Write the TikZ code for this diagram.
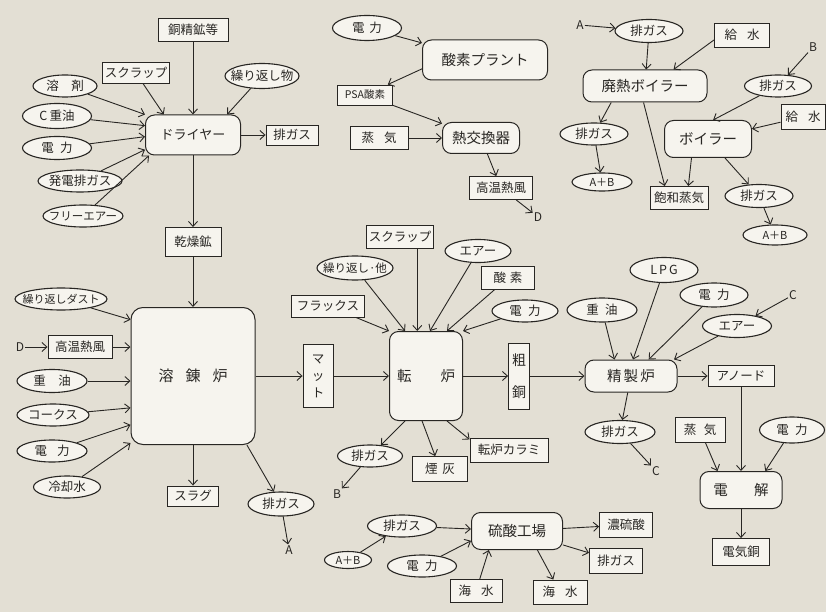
\documentclass[tikz,border=0pt]{standalone}
\usepackage{fontspec}
\setmainfont{Noto Sans CJK JP}
\usepackage{xcolor}
\definecolor{paper}{RGB}{227, 223, 212}
\definecolor{cell}{RGB}{246, 244, 238}
\definecolor{ink}{RGB}{40, 38, 35}
\usepackage{tikz}
\usetikzlibrary{arrows.meta, shapes.geometric}
\newcommand{\jsp}[1][.5]{\hspace{#1em}}

\begin{document}
\begin{tikzpicture}[x = 1pt, y = -1pt,
	box/.style = {draw = ink, fill = cell, line width = 0.9pt, inner sep = 2pt, minimum height = 23pt, text = ink, font = \fontsize{12.5}{14}\selectfont},
	oval/.style = {ellipse, draw = ink, fill = cell, line width = 1.1pt, inner xsep = -8pt, inner ysep = -2pt, minimum width = 68pt, minimum height = 23pt, text = ink, font = \fontsize{12.5}{14}\selectfont},
	unit/.style = {draw = ink, fill = cell, line width = 1pt, rounded corners = 9pt, text = ink, font = \fontsize{14.5}{16}\selectfont},
	tag/.style = {inner sep = 1pt, text = ink, font = \fontsize{12}{14}\selectfont},
	flow/.style = {draw = ink, line width = 0.9pt, -{Straight Barb[length = 5pt, width = 9pt]}}]
	\fill[paper] (0, 0) rectangle (826, 612);
	\useasboundingbox (0, 0) rectangle (826, 612);
	% drying
	\node[box, minimum width = 70pt] (ore) at (193, 30) {銅精鉱等};
	\node[box, minimum width = 65pt, minimum height = 21pt] (scrapD) at (136, 73) {スクラップ};
	\node[oval, minimum width = 64pt, minimum height = 22pt] (fluxD) at (65, 86) {溶\jsp[1]剤};
	\node[oval, minimum width = 69pt, minimum height = 25pt] (oilD) at (57, 116) {C\,重油};
	\node[oval, minimum width = 69pt] (powD) at (57, 148) {電\jsp{}力};
	\node[oval, minimum width = 84pt, minimum height = 22pt] (genD) at (80, 181) {発電排ガス};
	\node[oval, minimum width = 80pt, minimum height = 22pt, font = \fontsize{11.5}{13}\selectfont] (airD) at (83, 216) {フリーエアー};
	\node[oval, minimum width = 74pt, minimum height = 25pt] (recycD) at (262, 76) {繰り返し物};
	\node[unit, minimum width = 95pt, minimum height = 40pt, font = \fontsize{13}{15}\selectfont] (dryer) at (193, 135) {ドライヤー};
	\node[box, minimum width = 52pt, minimum height = 20pt] (gasD) at (292, 135) {排ガス};
	\node[box, minimum width = 56pt, minimum height = 29pt] (dried) at (193, 242) {乾燥鉱};
	% smelting
	\node[unit, rounded corners = 12pt, minimum width = 124pt, minimum height = 137pt, font = \fontsize{15}{17}\selectfont] (smelt) at (193, 376) {溶\jsp[.8]錬\jsp[.8]炉};
	\node[oval, minimum width = 92pt, minimum height = 22pt, font = \fontsize{11}{13}\selectfont] (dustS) at (61, 299) {繰り返しダスト};
	\node[tag] (dS) at (20, 347) {D};
	\node[box, minimum width = 64pt] (hotS) at (80, 347) {高温熱風};
	\node[oval, minimum width = 70pt] (oilS) at (52, 381) {重\jsp[1]油};
	\node[oval, minimum width = 72pt, minimum height = 22pt] (coke) at (53, 415) {コークス};
	\node[oval, minimum width = 70pt, minimum height = 22pt] (powS) at (52, 451) {電\jsp[.8]力};
	\node[oval, minimum width = 67pt, minimum height = 22pt] (coolS) at (67, 487) {冷却水};
	\node[box, minimum width = 51pt, minimum height = 20pt] (slag) at (193, 496) {スラグ};
	\node[oval, minimum width = 66pt, minimum height = 24pt] (gasS) at (281, 504) {排ガス};
	\node[tag] (aS) at (289, 550) {A};
	% converter
	\node[box, minimum width = 30pt, minimum height = 63pt, align = center, font = \fontsize{12.5}{17}\selectfont] (matte) at (318, 376) {マ\\ッ\\ト};
	\node[unit, minimum width = 73pt, minimum height = 89pt] (conv) at (426, 376) {転\jsp[2]炉};
	\node[box, minimum width = 21pt, minimum height = 66pt, align = center, font = \fontsize{14}{32}\selectfont] (blister) at (519, 376) {粗\\銅};
	\node[box, minimum width = 66pt] (scrapC) at (400, 237) {スクラップ};
	\node[oval, minimum width = 66pt] (airC) at (478, 251) {エアー};
	\node[oval, minimum width = 76pt, minimum height = 24pt, font = \fontsize{11.5}{13}\selectfont] (recycC) at (355, 268) {繰り返し·他};
	\node[box, minimum width = 53pt] (oxyC) at (508, 278) {酸\jsp[.3]素};
	\node[box, minimum width = 73pt, minimum height = 22pt] (fluxC) at (328, 306) {フラックス};
	\node[oval, minimum width = 66pt, minimum height = 22pt] (powC) at (525, 311) {電\jsp{}力};
	\node[oval, minimum width = 65pt, minimum height = 22pt] (gasC) at (370, 456) {排ガス};
	\node[tag] (bC) at (337, 494) {B};
	\node[box, minimum width = 55pt, minimum height = 25pt] (ash) at (440, 469) {煙\jsp[.4]灰};
	\node[box, minimum width = 78pt, minimum height = 24pt] (slagC) at (509, 450) {転炉カラミ};
	% sulphuric acid
	\node[unit, minimum width = 91pt, minimum height = 37pt] (sulf) at (517, 531) {硫酸工場};
	\node[oval, minimum width = 69pt, minimum height = 22pt] (gasA) at (402, 526) {排ガス};
	\node[oval, minimum width = 47pt, minimum height = 17pt, font = \fontsize{11}{13}\selectfont] (abA) at (348, 560) {A＋B};
	\node[oval, minimum width = 69pt, minimum height = 22pt] (powA) at (422, 566) {電\jsp{}力};
	\node[box, minimum width = 52pt] (seaIn) at (476, 591) {海\jsp[.8]水};
	\node[box, minimum width = 54pt, minimum height = 24pt] (seaOut) at (560, 592) {海\jsp[.8]水};
	\node[box, minimum width = 53pt, minimum height = 25pt] (acid) at (626, 525) {濃硫酸};
	\node[box, minimum width = 53pt, minimum height = 25pt] (gasA2) at (616, 561) {排ガス};
	% refining
	\node[unit, minimum width = 92pt, minimum height = 32pt] (refine) at (631, 376) {精\jsp[.15]製\jsp[.15]炉};
	\node[oval, minimum width = 68pt, minimum height = 25pt] (lpg) at (664, 270) {L\,P\,G};
	\node[oval, minimum width = 70pt, minimum height = 24pt] (oilR) at (602, 310) {重\jsp{}油};
	\node[oval, minimum width = 68pt, minimum height = 24pt] (powR) at (714, 295) {電\jsp{}力};
	\node[oval, minimum width = 69pt] (airR) at (737, 326) {エアー};
	\node[tag] (cR) at (793, 295) {C};
	\node[box, minimum width = 66pt, minimum height = 21pt] (anode) at (741, 376) {アノード};
	\node[oval, minimum width = 70pt] (gasR) at (620, 432) {排ガス};
	\node[tag] (cR2) at (656, 471) {C};
	\node[box, minimum width = 50pt, minimum height = 25pt] (steamE) at (700, 430) {蒸\jsp[.6]気};
	\node[oval, minimum width = 65pt, minimum height = 26pt] (powE) at (792, 430) {電\jsp{}力};
	\node[unit, minimum width = 82pt, minimum height = 37pt] (elec) at (741, 490) {電\jsp[1.8]解};
	\node[box, minimum width = 57pt, minimum height = 27pt] (cath) at (741, 552) {電気銅};
	% oxygen
	\node[oval, minimum width = 69pt, minimum height = 25pt] (powO) at (367, 28) {電\jsp[.4]力};
	\node[unit, minimum width = 125pt, minimum height = 40pt] (o2p) at (485, 60) {酸素プラント};
	\node[box, minimum width = 55pt, minimum height = 20pt, font = \fontsize{10.5}{12}\selectfont] (psa) at (365, 95) {PSA酸素};
	\node[box, minimum width = 58pt] (steamO) at (379, 138) {蒸\jsp[.8]気};
	\node[unit, minimum width = 77pt, minimum height = 31pt] (hx) at (481, 138) {熱交換器};
	\node[box, minimum width = 63pt] (hotO) at (501, 188) {高温熱風};
	\node[tag] (dO) at (538, 217) {D};
	% boilers
	\node[tag] (aB) at (580, 25) {A};
	\node[oval, minimum width = 68pt] (gasB1) at (649, 31) {排ガス};
	\node[box, minimum width = 55pt, minimum height = 24pt] (waterB1) at (742, 35) {給\jsp[.8]水};
	\node[unit, minimum width = 124pt, minimum height = 32pt] (whb) at (645, 86) {廃熱ボイラー};
	\node[tag] (bB) at (813, 47) {B};
	\node[oval, minimum width = 67pt, minimum height = 22pt] (gasB2) at (778, 86) {排ガス};
	\node[box, minimum width = 44pt, minimum height = 25pt] (waterB2) at (803, 117) {給\jsp[.8]水};
	\node[unit, minimum width = 87pt, minimum height = 37pt] (boil) at (708, 139) {ボイラー};
	\node[oval, minimum width = 68pt, minimum height = 22pt] (gasB3) at (594, 134) {排ガス};
	\node[oval, minimum width = 60pt, minimum height = 18pt, font = \fontsize{11}{13}\selectfont] (abB1) at (602, 182) {A＋B};
	\node[box, minimum width = 58pt] (sat) at (679, 198) {飽和蒸気};
	\node[oval, minimum width = 68pt] (gasB4) at (759, 196) {排ガス};
	\node[oval, minimum width = 64pt, minimum height = 20pt, font = \fontsize{11}{13}\selectfont] (abB2) at (775, 235) {A＋B};
	% connectors: drying
	\draw[flow] (ore) -- (dryer.north);
	\draw[flow] (scrapD) -- (dryer.145);
	\draw[flow] (fluxD) -- (dryer.north west);
	\draw[flow] (oilD) -- (dryer.169);
	\draw[flow] (powD) -- (dryer.182);
	\draw[flow] (genD) -- (dryer.197);
	\draw[flow] (airD) -- (dryer.205);
	\draw[flow] (recycD) -- (dryer.31);
	\draw[flow] (dryer) -- (gasD);
	\draw[flow] (dryer) -- (dried);
	\draw[flow] (dried) -- (smelt);
	% connectors: smelting
	\draw[flow] (dustS) -- (smelt.138);
	\draw[flow] (dS) -- (hotS);
	\draw[flow] (hotS) -- (smelt.west |- hotS);
	\draw[flow] (oilS) -- (smelt.west |- oilS);
	\draw[flow] (coke) -- (smelt.207);
	\draw[flow] (powS) -- (smelt.218);
	\draw[flow] (coolS) -- (smelt.227);
	\draw[flow] (smelt) -- (slag);
	\draw[flow] (smelt.308) -- (gasS);
	\draw[flow] (gasS) -- (aS);
	\draw[flow] (smelt) -- (matte);
	% connectors: converter
	\draw[flow] (matte) -- (conv);
	\draw[flow] (fluxC) -- (conv.north west);
	\draw[flow] (recycC) -- (conv.115);
	\draw[flow] (scrapC.south -| conv.101) -- (conv.101);
	\draw[flow] (airC) -- (conv.85);
	\draw[flow] (oxyC) -- (conv.65);
	\draw[flow] (powC) -- (conv.north east);
	\draw[flow] (conv.245) -- (gasC);
	\draw[flow] (conv.265) -- (ash);
	\draw[flow] (conv.295) -- (slagC.165);
	\draw[flow] (gasC) -- (bC);
	\draw[flow] (conv) -- (blister);
	\draw[flow] (blister) -- (refine);
	% connectors: sulphuric acid
	\draw[flow] (abA) -- (gasA);
	\draw[flow] (gasA) -- (sulf);
	\draw[flow] (powA) -- (sulf.192);
	\draw[flow] (seaIn) -- (sulf.214);
	\draw[flow] (sulf) -- (acid);
	\draw[flow] (sulf) -- (gasA2);
	\draw[flow] (sulf.317) -- (seaOut);
	% connectors: refining
	\draw[flow] (oilR) -- (refine.135);
	\draw[flow] (lpg) -- (refine.83);
	\draw[flow] (powR) -- (refine.43);
	\draw[flow] (airR) -- (refine.21);
	\draw[flow] (cR) -- (airR);
	\draw[flow] (refine) -- (gasR);
	\draw[flow] (gasR) -- (cR2);
	\draw[flow] (refine) -- (anode);
	\draw[flow] (anode) -- (elec);
	\draw[flow] (steamE) -- (elec.141);
	\draw[flow] (powE) -- (elec.38);
	\draw[flow] (elec) -- (cath);
	% connectors: oxygen
	\draw[flow] (powO) -- (o2p);
	\draw[flow] (o2p.188) -- (psa);
	\draw[flow] (psa) -- (hx);
	\draw[flow] (steamO) -- (hx);
	\draw[flow] (hx) -- (hotO);
	\draw[flow] (hotO) -- (dO);
	% connectors: boilers
	\draw[flow] (aB) -- (gasB1);
	\draw[flow] (gasB1) -- (whb);
	\draw[flow] (waterB1.190) -- (whb.30);
	\draw[flow] (whb.206) -- (gasB3);
	\draw[flow] (gasB3) -- (abB1);
	\draw[flow] (whb.265) -- (sat.140);
	\draw[flow] (bB) -- (gasB2);
	\draw[flow] (gasB2) -- (boil.75);
	\draw[flow] (waterB2) -- (boil);
	\draw[flow] (boil.229) -- (sat.52);
	\draw[flow] (boil) -- (gasB4);
	\draw[flow] (gasB4) -- (abB2);
\end{tikzpicture}
\end{document}
